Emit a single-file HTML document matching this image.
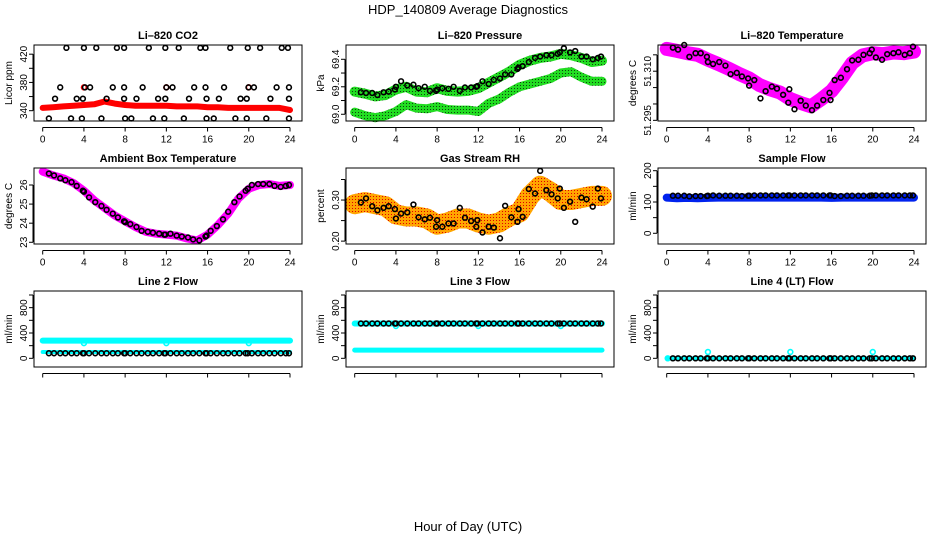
<!DOCTYPE html>
<html><head><meta charset="utf-8">
<style>
html,body{margin:0;padding:0;background:#fff;}
svg{display:block;font-family:"Liberation Sans",Arial,sans-serif;}
</style></head>
<body>
<svg id="chart" width="936" height="540" viewBox="0 0 936 540">
<defs>
<pattern id="stipRH" width="3" height="3" patternUnits="userSpaceOnUse"><rect width="3" height="3" fill="#ffa500"/><rect x="1" y="1" width="1" height="1" fill="#e00000"/></pattern>
<pattern id="stipG" width="3" height="3" patternUnits="userSpaceOnUse"><rect width="3" height="3" fill="#22dd22"/><rect x="1" y="1" width="1" height="1" fill="#104010"/></pattern>
</defs>
<text x="468" y="14" text-anchor="middle" font-size="13">HDP_140809  Average Diagnostics</text>
<text x="468" y="531" text-anchor="middle" font-size="13">Hour of Day (UTC)</text>
</svg>
<script>
// ---- data ----
const xTicks = [0,4,8,12,16,20,24];
const bandHours = [0,1,2,3,4,5,6,7,8,9,10,11,12,13,14,15,16,17,18,19,20,21,22,23,24];
const blackHours = [0.6,1.1,1.7,2.2,2.8,3.3,3.9,4.0,4.5,5.1,5.7,6.2,6.8,7.3,7.9,8.0,8.5,9.1,9.6,10.2,10.7,11.3,11.8,11.9,12.4,13.0,13.5,14.1,14.6,15.2,15.8,15.9,16.3,16.9,17.5,18.0,18.6,19.1,19.7,19.9,20.3,20.9,21.4,22.0,22.5,23.1,23.6,23.9];

const co2BlackHours = [2.3,4.0,5.2,7.2,7.9,10.3,11.9,13.2,15.3,15.8,18.2,19.9,21.1,23.2,23.8, 1.7,4.1,4.6,6.8,7.9,9.7,12.0,12.6,14.7,15.8,17.6,19.97,20.5,22.7,23.9, 1.2,3.3,3.9,6.2,7.9,9.1,11.2,11.9,14.2,15.9,17.1,19.2,19.8,22.1,23.9, 0.6,2.75,3.8,5.7,8.0,8.6,10.7,11.8,13.7,15.9,16.6,18.7,19.8,21.7,23.9];
const co2BlackVals = [429,429,429,429,429,429,429,429,429,429,429,429,429,429,429, 373,373,373,373,373,373,373,373,373,373,373,373,373,373,373, 357,357,357,357,357,357,357,357,357,357,357,357,357,357,357, 329,329,329,329,329,329,329,329,329,329,329,329,329,329,329];
const co2Red = [344,345,346,347,348,349,353,350,348,347,347,347,347,346,346,346,345,345,344,344,344,344,344,344,341];
const co2RedPtHours = [4.0,12.0,20.0];
const co2RedPtVals = [373,373,373];

const presUpper = [69.165,69.15,69.13,69.14,69.18,69.2,69.165,69.16,69.19,69.17,69.165,69.17,69.19,69.23,69.27,69.31,69.36,69.39,69.41,69.42,69.44,69.43,69.41,69.38,69.39];
const presLower = [69.015,68.99,68.975,68.99,69.02,69.07,69.045,69.04,69.056,69.035,69.03,69.03,69.02,69.08,69.11,69.16,69.2,69.22,69.24,69.26,69.3,69.31,69.27,69.24,69.24];
const presBlack = [69.16,69.155,69.155,69.14,69.16,69.165,69.18,69.2,69.24,69.21,69.215,69.19,69.2,69.17,69.17,69.18,69.19,69.185,69.2,69.17,69.195,69.195,69.2,69.205,69.24,69.22,69.25,69.26,69.29,69.29,69.33,69.34,69.35,69.38,69.41,69.42,69.43,69.43,69.44,69.45,69.48,69.45,69.46,69.42,69.42,69.4,69.41,69.42];

const tempBand = [51.3168,51.3162,51.3155,51.315,51.3135,51.3122,51.3108,51.3092,51.3078,51.3058,51.3045,51.3035,51.3015,51.3003,51.2993,51.3015,51.304,51.308,51.3125,51.3148,51.3155,51.3152,51.3157,51.3155,51.316];
const tempBlack = [51.3172,51.3166,51.318,51.3144,51.3155,51.3155,51.3144,51.3128,51.3122,51.3128,51.3117,51.3091,51.3095,51.3084,51.3078,51.3056,51.3073,51.3017,51.3039,51.3053,51.3047,51.3028,51.3004,51.3045,51.2984,51.301,51.2995,51.2981,51.2995,51.3012,51.3034,51.3012,51.3073,51.308,51.3106,51.3133,51.3135,51.315,51.3155,51.3166,51.3142,51.3135,51.3152,51.3155,51.3158,51.315,51.3155,51.3175];

const ambBand = [26.7,26.5,26.35,26.1,25.7,25.2,24.8,24.4,24.1,23.8,23.55,23.45,23.4,23.35,23.2,23.1,23.4,23.9,24.5,25.3,25.8,26.0,26.05,25.95,26.0];
const ambBlack = [26.6,26.5,26.35,26.25,26.15,25.95,25.7,25.65,25.35,25.1,24.9,24.7,24.5,24.3,24.1,24.05,23.95,23.8,23.6,23.55,23.5,23.45,23.4,23.4,23.45,23.35,23.3,23.25,23.15,23.1,23.3,23.35,23.6,23.85,24.2,24.6,25.1,25.4,25.7,25.8,26.0,26.05,26.05,26.05,25.95,25.9,25.95,26.0];

const rhBand = [0.29,0.295,0.29,0.285,0.265,0.26,0.26,0.255,0.24,0.245,0.255,0.255,0.245,0.24,0.245,0.26,0.27,0.31,0.335,0.32,0.3,0.3,0.305,0.31,0.31];
const rhBlack = [0.294,0.304,0.285,0.275,0.281,0.285,0.278,0.255,0.267,0.27,0.289,0.258,0.253,0.257,0.235,0.251,0.235,0.243,0.243,0.281,0.257,0.249,0.235,0.251,0.221,0.235,0.233,0.207,0.286,0.258,0.247,0.278,0.259,0.327,0.316,0.371,0.324,0.314,0.304,0.328,0.281,0.296,0.247,0.306,0.302,0.284,0.328,0.304];

const flowBand = [114,112,113,112,113,114,114,114,114,114,114,114,114,114,114,114,113,114,114,114,114,114,114,114,114];
const flowBlack = [120,120,120,118,119,119,119,120,121,120,120,120,120,119,120,120,121,121,121,121,121,121,121,121,121,121,121,121,121,121,121,121,119,119,120,120,120,120,120,121,121,121,121,121,121,121,121,121];

const l2CyanHigh = [280,280,280,280,280,280,280,280,280,280,280,280,280,280,280,280,280,280,280,280,280,280,280,280,280];
const l2CyanLow = [100,100,100,100,100,100,100,100,100,100,100,100,100,100,100,100,100,100,100,100,100,100,100,100,100];
const l2Black = [80,80,80,80,80,80,80,80,80,80,80,80,80,80,80,80,80,80,80,80,80,80,80,80,80,80,80,80,80,80,80,80,80,80,80,80,80,80,80,80,80,80,80,80,80,80,80,80];
const l2CyanDipHours = [4.0,12.0,20.0];
const l2CyanDipVals = [240,240,240];

const l3CyanHigh = [550,550,550,550,550,550,550,550,550,550,550,550,550,550,550,550,550,550,550,550,550,550,550,550,550];
const l3CyanLow = [130,130,130,130,130,130,130,130,130,130,130,130,130,130,130,130,130,130,130,130,130,130,130,130,130];
const l3Black = [550,550,550,550,550,550,550,550,550,550,550,550,550,550,550,550,550,550,550,550,550,550,550,550,550,550,550,550,550,550,550,550,550,550,550,550,550,550,550,550,550,550,550,550,550,550,550,550];
const l3CyanDipHours = [4.0,12.0,20.0];
const l3CyanDipVals = [510,510,510];

const l4Cyan = [0,0,0,0,0,0,0,0,0,0,0,0,0,0,0,0,0,0,0,0,0,0,0,0,0];
const l4Black = [0,0,0,0,0,0,0,0,0,0,0,0,0,0,0,0,0,0,0,0,0,0,0,0,0,0,0,0,0,0,0,0,0,0,0,0,0,0,0,0,0,0,0,0,0,0,0,0];
const l4CyanPtHours = [0.1,4.0,12.0,20.0];
const l4CyanPtVals = [0,100,100,100];

// ---- layout ----
const NS = 'http://www.w3.org/2000/svg';
const svg = document.getElementById('chart');
function mk(tag, attrs, parent){
  const e = document.createElementNS(NS, tag);
  for (const k in attrs) e.setAttribute(k, attrs[k]);
  (parent||svg).appendChild(e);
  return e;
}
const colX = [0,312,624];
const rowY = [45,168,291];
const boxH = 76;

function makePanel(col,row,title,ylab,ymin,ymax,yticks,ylabels,name){
  const ox = colX[col], top = rowY[row], bottom = top+boxH;
  const x0 = ox+34, x1 = ox+302;
  const xs = h => ox+42.7 + h*(290-42.7)/24;
  const ys = v => bottom - (v-ymin)/(ymax-ymin)*boxH;
  const g = mk('g',{});
  
  
  const t = mk('text',{x:ox+168,y:top-6,'text-anchor':'middle','font-size':11,'font-weight':'bold'},g);
  t.textContent = title;
  
  
  const plot = mk('g',{},g);
  
  
  const box = mk('rect',{x:x0,y:top,width:x1-x0,height:boxH,fill:'none',stroke:'#000','stroke-width':1},g);
  
  
  // x axis
  const xa = mk('g',{},g);
  
  
  const ay = bottom+6.5;
  mk('line',{x1:xs(0),x2:xs(24),y1:ay,y2:ay,stroke:'#000'},xa);
  xTicks.forEach(v=>{
    mk('line',{x1:xs(v),x2:xs(v),y1:ay,y2:ay+4,stroke:'#000'},xa);
    if(row<2){
      const l = mk('text',{x:xs(v),y:ay+15,'text-anchor':'middle','font-size':10},xa);
      l.textContent = v;
      
      
    }
  });
  // y axis
  const ya = mk('g',{},g);
  
  
  mk('line',{x1:x0-1,x2:x0-1,y1:ys(yticks[0]),y2:ys(yticks[yticks.length-1]),stroke:'#000'},ya);
  yticks.forEach(v=>{ mk('line',{x1:x0-5,x2:x0-1,y1:ys(v),y2:ys(v),stroke:'#000'},ya); });
  ylabels.forEach(v=>{
    const yy = ys(parseFloat(v));
    const l = mk('text',{x:ox+27,y:yy,'text-anchor':'middle','font-size':10,transform:`rotate(-90 ${ox+27} ${yy})`},ya);
    l.textContent = v;
    
    
  });
  const yt = mk('text',{x:ox+12,y:top+boxH/2,'text-anchor':'middle','font-size':10,transform:`rotate(-90 ${ox+12} ${top+boxH/2})`},g);
  yt.textContent = ylab;
  
  
  return {xs,ys,plot};
}
function band(p,hours,vals,color,width,name){
  const pts = hours.map((h,i)=>p.xs(h).toFixed(1)+','+p.ys(vals[i]).toFixed(1)).join(' ');
  const e = mk('polyline',{points:pts,fill:'none',stroke:color,'stroke-width':width,'stroke-linejoin':'round','stroke-linecap':'round'},p.plot);
  
  
}
function points(p,hours,vals,color,name,r){
  const g = mk('g',{},p.plot);
  
  
  hours.forEach((h,i)=>{
    const c = mk('circle',{cx:p.xs(h),cy:p.ys(vals[i]),r:r||2.4,fill:'none',stroke:color,'stroke-width':1.6},g);
    
    
  });
}

// Panel 1: CO2
let p = makePanel(0,0,'Li\u2013820 CO2','Licor ppm',325.4,433,[340,360,380,400,420],['340','380','420'],'co2');
band(p,bandHours,co2Red,'#ff0000',6,'co2-red-series');
points(p,co2RedPtHours,co2RedPtVals,'#ff0000','co2-red-points');
points(p,co2BlackHours,co2BlackVals,'#000','co2-black-points');

// Panel 2: Pressure
p = makePanel(1,0,'Li\u2013820 Pressure','kPa',68.951,69.504,[69.0,69.1,69.2,69.3,69.4],['69.0','69.2','69.4'],'pressure');
band(p,bandHours,presUpper,'url(#stipG)',10,'pressure-upper-series');
band(p,bandHours,presLower,'url(#stipG)',9,'pressure-lower-series');
points(p,blackHours,presBlack,'#000','pressure-black-points');

// Panel 3: Temperature
p = makePanel(2,0,'Li\u2013820 Temperature','degrees C',51.2948,51.318,[51.295,51.300,51.305,51.310,51.315],['51.295','51.310'],'li820-temp');
band(p,bandHours,tempBand,'#ff00ff',14,'li820-temp-series');
points(p,blackHours,tempBlack,'#000','li820-temp-black-points');

// Panel 4: Ambient
p = makePanel(0,1,'Ambient Box Temperature','degrees C',22.91,26.89,[23,24,25,26],['23','24','25','26'],'ambient');
band(p,bandHours,ambBand,'#ff00ff',8,'ambient-series');
points(p,blackHours,ambBlack,'#000','ambient-black-points');

// Panel 5: RH
p = makePanel(1,1,'Gas Stream RH','percent',0.193,0.378,[0.20,0.25,0.30,0.35],['0.20','0.30'],'rh');
band(p,bandHours,rhBand,'url(#stipRH)',20,'rh-series');
points(p,blackHours,rhBlack,'#000','rh-black-points');

// Panel 6: Sample flow
p = makePanel(2,1,'Sample Flow','ml/min',-34.2,208.6,[0,50,100,150,200],['0','100','200'],'sample-flow');
band(p,bandHours,flowBand,'#0022ee',8,'sample-flow-series');
points(p,blackHours,flowBlack,'#000','sample-flow-black-points');

// Panel 7: Line 2
p = makePanel(0,2,'Line 2 Flow','ml/min',-137,1063,[0,200,400,600,800,1000],['0','400','800'],'line2');
band(p,bandHours,l2CyanHigh,'#00ffff',6,'line2-cyan-high');
band(p,bandHours,l2CyanLow,'#00ffff',4,'line2-cyan-low');
points(p,l2CyanDipHours,l2CyanDipVals,'#00ffff','line2-cyan-dips');
points(p,blackHours,l2Black,'#000','line2-black-points');

// Panel 8: Line 3
p = makePanel(1,2,'Line 3 Flow','ml/min',-137,1063,[0,200,400,600,800,1000],['0','400','800'],'line3');
band(p,bandHours,l3CyanHigh,'#00ffff',6,'line3-cyan-high');
band(p,bandHours,l3CyanLow,'#00ffff',5,'line3-cyan-low');
points(p,l3CyanDipHours,l3CyanDipVals,'#00ffff','line3-cyan-dips');
points(p,blackHours,l3Black,'#000','line3-black-points');

// Panel 9: Line 4
p = makePanel(2,2,'Line 4 (LT) Flow','ml/min',-137,1063,[0,200,400,600,800,1000],['0','400','800'],'line4');
band(p,bandHours,l4Cyan,'#00ffff',4,'line4-cyan-series');
points(p,l4CyanPtHours,l4CyanPtVals,'#00ffff','line4-cyan-points');
points(p,blackHours,l4Black,'#000','line4-black-points');
</script>
</body></html>
